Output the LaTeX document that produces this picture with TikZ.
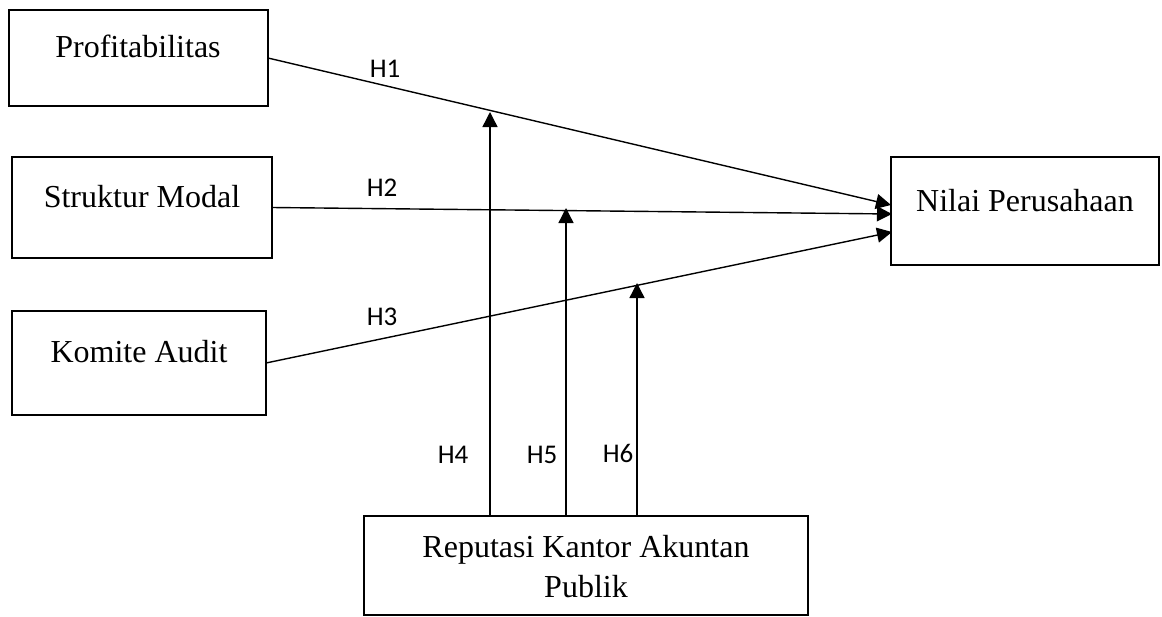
\documentclass[tikz,border=0pt]{standalone}
\usepackage{fontspec}
\setmainfont{Liberation Serif}
\newfontfamily\hfont{Carlito}
\usetikzlibrary{arrows.meta}
\begin{document}
\begin{tikzpicture}[x=0.5pt,y=-0.5pt,
  box/.style={draw, line width=1.4pt, inner sep=0pt, outer sep=0pt, anchor=north west},
  lbl/.style={anchor=base, inner sep=0pt, font=\fontsize{16}{19}\selectfont},
  hlbl/.style={anchor=base, inner sep=0pt, font=\hfont\fontsize{13.5}{16}\selectfont},
  conn/.style={line width=0.7pt, -{Triangle[length=7.5pt,width=7.5pt]}}]
\useasboundingbox (0,0) rectangle (1162,616);
% boxes
\node[box, minimum width=129.5pt, minimum height=48pt] (prof) at (9,10) {};
\node[box, minimum width=130pt, minimum height=50.5pt] (strk) at (12,157) {};
\node[box, minimum width=127pt, minimum height=52pt] (kom) at (12,311) {};
\node[box, minimum width=134pt, minimum height=54pt] (nil) at (891,157) {};
\node[box, minimum width=222pt, minimum height=49.5pt] (rep) at (364,516) {};
% texts
\node[lbl] (tprof) at (138,57) {Profitabilitas};
\node[lbl] (tstrk) at (142,207) {Struktur Modal};
\node[lbl] (tkom) at (139,362) {Komite Audit};
\node[lbl] (tnil) at (1025,211) {Nilai Perusahaan};
\node[lbl] (trep1) at (586,557) {Reputasi Kantor Akuntan};
\node[lbl] (trep2) at (586,597) {Publik};
% arrow end points
\coordinate (t1) at (891,205);
\coordinate (t2) at (892,214);
\coordinate (t3) at (892,232);
\coordinate (m1) at (490,112);
\coordinate (m2) at (566,208);
\coordinate (m3) at (637,283);
% connectors
\draw[conn] (prof.east) -- (t1);
\draw[conn] (strk.east) -- (t2);
\draw[conn] (kom.east) -- (t3);
\draw[conn] (rep.north -| m1) -- (m1);
\draw[conn] (rep.north -| m2) -- (m2);
\draw[conn] (rep.north -| m3) -- (m3);
% hypothesis labels
\node[hlbl] (h1) at (385,77) {H1};
\node[hlbl] (h2) at (382,196) {H2};
\node[hlbl] (h3) at (382,325) {H3};
\node[hlbl] (h4) at (453,463) {H4};
\node[hlbl] (h5) at (542,463) {H5};
\node[hlbl] (h6) at (618,462) {H6};
\end{tikzpicture}
\end{document}
